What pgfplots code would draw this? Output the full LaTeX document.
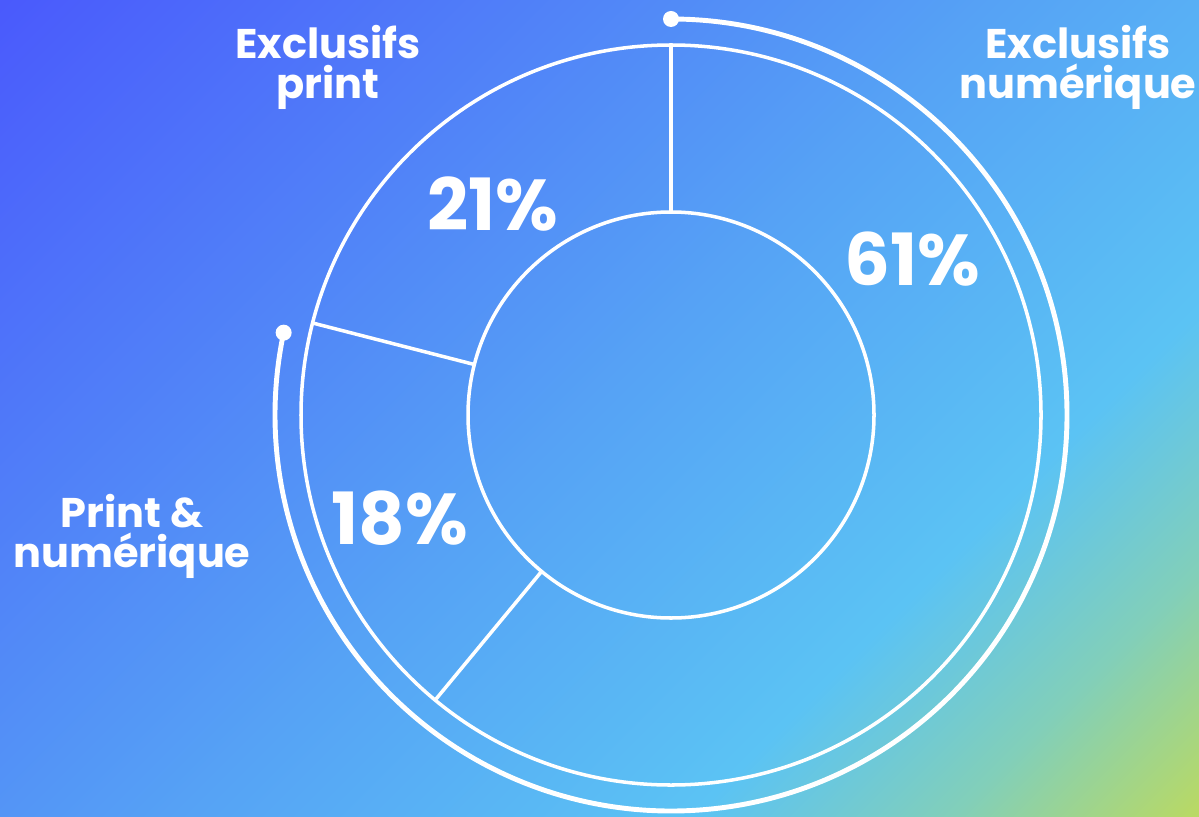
\documentclass[border=0pt]{standalone}
\usepackage{pgfplots}
\pgfplotsset{compat=1.18}
\usepackage{fontspec}
\setmainfont{Poppins}
\definecolor{g0}{RGB}{74,90,252}
\definecolor{g1}{RGB}{86,163,245}
\definecolor{g2}{RGB}{91,195,244}
\definecolor{g3}{RGB}{130,207,185}
\definecolor{g4}{RGB}{185,217,100}
\pgfdeclarehorizontalshading{bg}{100bp}{color(0bp)=(g0); color(14.64bp)=(g0); color(50bp)=(g1); color(67.7bp)=(g2); color(76.9bp)=(g3); color(85.36bp)=(g4); color(100bp)=(g4)}
\begin{document}
\begin{tikzpicture}
% shares (percent), clockwise from 12 o'clock
\def\vA{61}% Exclusifs numerique
\def\vB{18}% Print & numerique
\def\vC{21}% Exclusifs print
\pgfmathsetmacro\aA{90}
\pgfmathsetmacro\aB{90-\vA*3.6}
\pgfmathsetmacro\aC{\aB-\vB*3.6}
\def\cx{671}\def\cy{401}
\foreach \n/\a in {A/\aA,B/\aB,C/\aC}{
  \pgfmathsetmacro\xi{\cx+203*cos(\a)}\pgfmathsetmacro\yi{\cy+203*sin(\a)}
  \pgfmathsetmacro\xo{\cx+370*cos(\a)}\pgfmathsetmacro\yo{\cy+370*sin(\a)}
  \expandafter\xdef\csname xi\n\endcsname{\xi}\expandafter\xdef\csname yi\n\endcsname{\yi}
  \expandafter\xdef\csname xo\n\endcsname{\xo}\expandafter\xdef\csname yo\n\endcsname{\yo}
}
\begin{axis}[scale only axis, width=11.99cm, height=8.16cm,
  xmin=0, xmax=1199, ymin=0, ymax=816, axis lines=none,
  font=\bfseries]
\shade[shading=bg, shading angle=-45] (axis cs:0,0) rectangle (axis cs:1199,816);
\draw[white, line width=1.0pt] (axis cs:\cx,\cy) circle[radius=2.03cm];
\draw[white, line width=1.0pt] (axis cs:\cx,\cy) circle[radius=3.70cm];
\addplot[white, line width=1.0pt] coordinates {(\xiA,\yiA) (\xoA,\yoA)};
\addplot[white, line width=1.0pt] coordinates {(\xiB,\yiB) (\xoB,\yoB)};
\addplot[white, line width=1.0pt] coordinates {(\xiC,\yiC) (\xoC,\yoC)};
\draw[white, line width=1.4pt] (axis cs:\cx,\cy) ++(90:3.96cm) arc[start angle=90, end angle=-192, radius=3.96cm];
\fill[white] (axis cs:\cx,\cy) ++(90:3.96cm) circle[radius=0.08cm];
\fill[white] (axis cs:\cx,\cy) ++(-192:3.96cm) circle[radius=0.08cm];
\node[white, align=center, font=\fontsize{11.8}{11.4}\selectfont\bfseries] at (axis cs:1078,749) {Exclusifs\\numérique};
\node[white, align=center, font=\fontsize{11.8}{11.4}\selectfont\bfseries] at (axis cs:328,749) {Exclusifs\\print};
\node[white, align=center, font=\fontsize{11.8}{11.4}\selectfont\bfseries] at (axis cs:132,280) {Print \&\\numérique};
\node[white, font=\fontsize{20.5}{20.5}\selectfont\bfseries] at (axis cs:912,557) {\vA\%};
\node[white, font=\fontsize{20.5}{20.5}\selectfont\bfseries] at (axis cs:400,298) {\vB\%};
\node[white, font=\fontsize{20.5}{20.5}\selectfont\bfseries] at (axis cs:493,612) {\vC\%};
\end{axis}
\end{tikzpicture}
\end{document}
